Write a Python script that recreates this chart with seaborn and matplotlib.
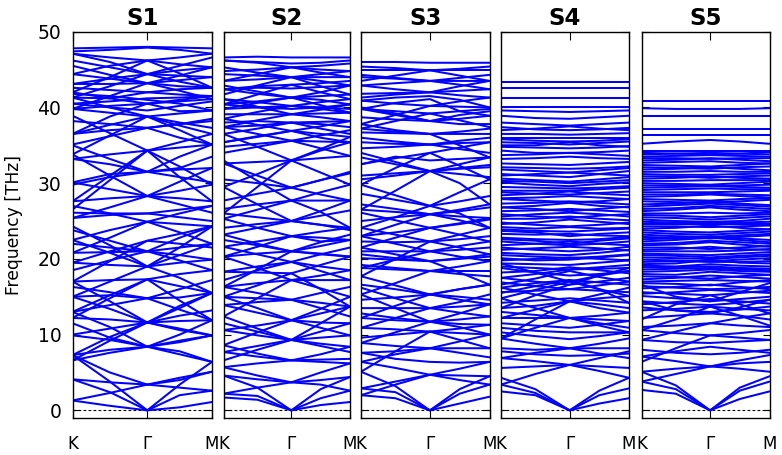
import numpy as np
import pandas as pd
import matplotlib
matplotlib.use("Agg")
import matplotlib.pyplot as plt
import seaborn as sns

# ---------------- data ----------------
panel_titles = ["S1", "S2", "S3", "S4", "S5"]
kpath = [0.0, 0.268, 0.536, 0.768, 1.0]          # K, mid, Gamma, mid, M
k_ticks = [0.0, 0.536, 1.0]
k_labels = ["K", "Γ", "M"]
y_ticks = [0, 10, 20, 30, 40, 50]

# each band: frequencies (THz) at K, K-G mid, Gamma, G-M mid, M
s1_bands = [
    [1.3, 0.6, 0.0, 0.4, 1.1], [4.1, 2.4, 0.0, 2.0, 2.6], [7.3, 3.8, 0.0, 3.4, 6.4],
    [1.3, 2.3, 3.4, 3.0, 2.6], [4.1, 3.7, 3.4, 4.0, 5.1], [7.3, 5.0, 3.4, 4.3, 5.1],
    [6.6, 7.6, 8.4, 9.2, 9.9], [11.5, 9.6, 8.4, 7.4, 6.4], [7.3, 8.0, 8.4, 7.8, 6.4],
    [13.0, 11.0, 8.4, 10.0, 11.9], [7.3, 9.7, 11.6, 10.6, 9.9], [12.2, 12.0, 11.6, 11.8, 11.9],
    [15.0, 13.4, 11.6, 13.5, 15.5], [6.6, 9.2, 11.6, 13.8, 15.5], [17.0, 17.2, 17.3, 18.0, 18.5],
    [13.0, 15.2, 17.3, 16.4, 15.5], [12.2, 14.8, 17.3, 14.5, 11.9], [19.5, 19.2, 19.0, 19.5, 19.9],
    [22.5, 20.8, 19.0, 17.5, 15.5], [15.0, 17.0, 19.0, 21.5, 24.3], [20.8, 20.9, 21.0, 20.5, 19.9],
    [23.8, 22.4, 21.0, 19.8, 18.5], [17.0, 19.7, 22.4, 22.0, 21.5], [19.5, 21.0, 22.4, 23.3, 24.3],
    [22.5, 23.8, 24.9, 24.6, 24.3], [27.0, 26.0, 24.9, 23.5, 22.0], [20.8, 22.8, 24.9, 26.0, 27.0],
    [25.4, 26.8, 28.3, 28.0, 27.6], [33.8, 31.0, 28.3, 27.2, 26.1], [27.6, 28.0, 28.3, 29.0, 29.8],
    [30.1, 29.2, 28.3, 30.2, 32.0], [26.5, 30.4, 34.3, 32.2, 29.8], [38.9, 36.6, 34.3, 35.4, 36.5],
    [33.2, 33.8, 34.3, 34.7, 35.1], [27.6, 31.0, 34.3, 30.8, 27.6], [36.5, 37.7, 38.8, 37.6, 36.5],
    [33.8, 36.3, 38.8, 37.0, 35.1], [41.3, 40.0, 38.8, 39.2, 39.6], [39.8, 40.2, 40.5, 40.8, 41.1],
    [42.0, 41.2, 40.5, 41.0, 41.5], [39.8, 41.5, 43.2, 42.8, 42.6], [43.1, 43.1, 43.2, 43.6, 44.0],
    [41.3, 42.8, 44.4, 44.9, 45.3], [46.2, 45.3, 44.4, 44.2, 44.0], [42.0, 44.0, 46.2, 45.7, 45.3],
    [47.1, 46.6, 46.2, 46.6, 47.1], [47.4, 47.6, 47.9, 47.6, 47.1], [47.8, 47.9, 48.0, 47.9, 47.8],
    [44.4, 45.5, 46.2, 44.5, 42.6], [36.5, 38.8, 40.5, 39.5, 39.6], [30.1, 31.2, 31.5, 31.8, 32.0],
    [40.5, 40.8, 41.2, 41.3, 41.5], [41.8, 41.5, 41.0, 40.5, 39.6],
    [47.1, 46.0, 44.4, 45.5, 46.6], [43.1, 43.8, 44.4, 43.4, 42.6], [45.5, 44.3, 43.2, 44.2, 45.3],
    [44.4, 43.8, 43.2, 42.2, 41.1], [41.3, 41.2, 42.0, 42.4, 42.6], [42.6, 42.3, 42.0, 41.7, 41.5],
    [40.5, 40.0, 39.6, 40.2, 40.8], [39.8, 39.3, 38.8, 38.0, 37.3], [36.5, 37.0, 37.3, 37.8, 38.2],
    [38.2, 37.8, 37.3, 37.8, 38.5], [35.1, 36.2, 37.3, 36.0, 35.1], [33.2, 32.5, 31.5, 30.8, 30.1],
    [35.0, 33.2, 31.5, 33.5, 35.1], [29.8, 30.8, 31.5, 32.0, 33.5], [26.1, 26.0, 26.0, 26.5, 27.0],
    [25.4, 25.8, 26.0, 25.5, 25.0], [22.0, 21.5, 21.0, 21.5, 22.0], [18.5, 19.8, 21.0, 22.8, 24.3],
    [24.3, 21.8, 19.0, 20.5, 22.0], [15.0, 15.2, 14.8, 14.9, 15.5], [16.3, 15.6, 14.8, 16.0, 17.2],
    [13.0, 13.9, 14.8, 13.3, 11.9], [10.0, 10.8, 11.6, 12.5, 13.2], [17.0, 14.4, 11.6, 10.8, 9.9],
    [9.9, 9.3, 8.4, 9.0, 9.9],
]

s2_bands = [
    [1.7, 1.4, 0.0, 0.7, 1.1], [2.2, 1.9, 0.0, 1.6, 2.6], [4.6, 3.0, 0.0, 2.8, 4.4],
    [2.2, 3.0, 3.7, 3.4, 2.6], [4.6, 4.1, 3.7, 4.0, 4.4], [5.7, 4.6, 3.7, 5.0, 6.2],
    [5.7, 6.2, 6.6, 6.7, 6.8], [7.7, 7.1, 6.6, 7.4, 8.4], [8.6, 7.5, 6.6, 6.4, 6.2],
    [10.6, 9.9, 9.3, 9.6, 9.9], [7.7, 8.5, 9.3, 8.8, 8.4], [12.4, 10.8, 9.3, 10.4, 11.5],
    [6.6, 8.0, 9.3, 11.5, 13.7], [8.6, 10.3, 11.9, 11.6, 11.5], [13.9, 12.9, 11.9, 12.8, 13.7],
    [15.0, 13.5, 11.9, 10.9, 9.9], [10.6, 11.2, 11.9, 13.4, 15.0], [16.3, 16.8, 17.2, 17.2, 17.2],
    [12.4, 14.8, 17.2, 16.1, 15.0], [20.3, 18.8, 17.2, 17.8, 18.5], [18.3, 18.2, 18.1, 19.2, 20.3],
    [15.0, 16.5, 18.1, 16.0, 13.7], [21.6, 20.6, 19.6, 18.4, 17.2], [18.3, 19.0, 19.6, 20.6, 21.5],
    [16.3, 18.6, 21.0, 21.7, 22.5], [23.2, 22.0, 21.0, 20.6, 20.3], [20.3, 21.6, 23.0, 22.3, 22.5],
    [21.6, 22.3, 23.0, 23.6, 24.1], [25.3, 24.1, 23.0, 22.8, 22.5], [23.2, 24.1, 25.0, 24.5, 24.1],
    [26.0, 25.5, 25.0, 25.7, 26.4], [29.5, 27.2, 25.0, 26.3, 27.7], [26.6, 27.2, 27.7, 27.7, 27.7],
    [25.3, 26.5, 27.7, 28.8, 29.8], [33.0, 30.3, 27.7, 26.2, 24.1], [32.6, 32.8, 33.0, 33.3, 33.6],
    [29.5, 31.2, 33.0, 31.4, 29.8], [36.5, 34.8, 33.0, 34.3, 35.4], [26.0, 29.5, 33.0, 34.5, 36.1],
    [34.8, 35.2, 35.6, 35.5, 35.4], [37.4, 36.5, 35.6, 34.6, 33.6], [35.4, 36.2, 36.9, 37.5, 38.2],
    [38.5, 37.7, 36.9, 36.5, 36.1], [39.1, 39.1, 39.1, 39.2, 39.3], [37.4, 38.3, 39.1, 39.7, 40.4],
    [41.1, 40.1, 39.1, 38.7, 38.2], [39.8, 40.6, 41.3, 41.5, 41.7], [42.4, 41.8, 41.3, 41.0, 40.4],
    [40.4, 40.8, 41.3, 40.3, 39.3], [41.7, 42.9, 44.0, 43.5, 42.9], [45.3, 44.6, 44.0, 44.0, 44.0],
    [43.5, 43.7, 44.0, 44.4, 44.8], [44.4, 44.2, 44.0, 42.8, 41.7], [46.2, 46.0, 45.8, 45.9, 46.2],
    [46.6, 46.7, 46.6, 46.6, 46.6], [38.0, 38.2, 38.0, 38.1, 38.2], [40.4, 40.0, 39.8, 40.0, 40.4],
    [42.4, 42.6, 42.5, 42.7, 42.9],
    [46.2, 45.9, 45.3, 45.5, 45.8], [44.8, 45.0, 45.3, 45.0, 44.8], [43.5, 44.4, 45.3, 44.6, 44.0],
    [42.4, 42.8, 43.0, 43.2, 43.5], [40.4, 41.7, 43.0, 42.0, 41.1], [42.9, 42.1, 41.3, 42.0, 42.9],
    [41.1, 40.7, 40.2, 40.7, 41.1], [39.8, 40.0, 40.2, 39.8, 39.3], [38.5, 39.4, 40.2, 40.0, 39.8],
    [37.4, 37.6, 38.0, 37.8, 37.4], [36.5, 37.2, 38.0, 37.2, 36.5], [35.4, 36.1, 36.9, 36.0, 35.4],
    [34.0, 34.8, 35.6, 36.3, 37.0], [32.6, 31.0, 29.4, 30.4, 31.5], [30.5, 30.0, 29.4, 28.5, 27.7],
    [27.7, 28.6, 29.4, 30.4, 31.3], [24.1, 24.6, 25.0, 24.5, 23.8], [20.3, 20.7, 21.0, 20.7, 20.3],
    [22.5, 21.8, 21.0, 22.2, 23.2], [17.2, 18.5, 19.6, 19.0, 18.5], [16.3, 15.5, 14.6, 15.5, 16.3],
    [13.9, 14.3, 14.6, 14.2, 13.7], [15.0, 14.8, 14.6, 13.5, 12.4], [11.5, 10.4, 9.3, 8.5, 7.7],
]

s3_bands = [
    [2.0, 1.6, 0.0, 0.9, 1.8], [2.9, 2.4, 0.0, 2.2, 3.4], [5.1, 3.2, 0.0, 2.8, 4.5],
    [2.0, 3.4, 4.7, 4.0, 3.4], [6.4, 5.6, 4.7, 4.6, 4.5], [2.9, 3.8, 4.7, 5.5, 6.4],
    [7.6, 6.8, 6.4, 6.3, 6.4], [6.4, 7.4, 8.2, 8.2, 8.2], [8.9, 8.5, 8.2, 9.1, 10.0],
    [5.1, 7.8, 10.4, 9.3, 8.2], [10.9, 10.7, 10.4, 10.8, 11.3], [12.2, 11.9, 11.7, 12.0, 12.4],
    [8.9, 10.3, 11.7, 12.8, 14.0], [15.3, 13.5, 11.7, 11.0, 10.0], [13.5, 13.5, 13.5, 13.7, 14.0],
    [16.2, 14.8, 13.5, 12.9, 12.4], [10.9, 12.2, 13.5, 14.3, 15.3], [12.2, 13.8, 15.3, 16.0, 16.6],
    [17.7, 16.5, 15.3, 14.6, 14.0], [18.8, 18.6, 18.4, 18.4, 18.4], [15.3, 16.8, 18.4, 19.0, 19.7],
    [20.1, 19.9, 19.7, 18.2, 16.6], [21.5, 20.6, 19.7, 20.1, 20.6], [18.8, 19.9, 21.0, 21.7, 22.3],
    [23.0, 22.0, 21.0, 20.3, 19.7], [17.7, 20.0, 22.3, 21.5, 20.6], [24.1, 23.2, 22.3, 23.2, 24.1],
    [21.5, 22.8, 24.1, 23.2, 22.3], [26.1, 25.1, 24.1, 24.7, 25.4], [23.0, 24.5, 25.9, 25.6, 25.4],
    [26.5, 26.2, 25.9, 26.5, 27.2], [29.8, 28.4, 27.0, 26.0, 24.1], [24.1, 25.5, 27.0, 28.8, 30.5],
    [31.0, 31.3, 31.6, 31.9, 32.1], [26.5, 29.0, 31.6, 30.0, 27.2], [34.0, 32.8, 31.6, 32.5, 33.4],
    [29.8, 32.0, 34.0, 32.3, 30.5], [32.5, 33.3, 34.0, 34.7, 35.4], [35.4, 35.2, 35.1, 35.3, 35.4],
    [36.7, 36.6, 36.5, 36.5, 36.5], [37.8, 37.0, 36.5, 35.0, 33.4], [38.7, 38.4, 38.2, 38.5, 38.9],
    [39.8, 39.0, 38.2, 37.8, 37.8], [40.9, 40.5, 40.2, 40.1, 40.0], [37.8, 39.0, 40.2, 40.8, 41.3],
    [41.8, 41.9, 42.0, 42.2, 42.4], [42.9, 42.4, 42.0, 41.6, 41.3], [44.0, 43.8, 43.5, 43.5, 43.5],
    [42.9, 43.2, 43.5, 43.9, 44.3], [44.9, 44.9, 44.9, 44.9, 44.9], [46.0, 46.0, 45.9, 45.9, 45.9],
    [40.9, 41.3, 41.5, 41.0, 40.0], [39.8, 40.6, 41.1, 39.5, 38.9], [32.5, 33.5, 33.0, 33.2, 33.4],
    [45.4, 45.2, 44.9, 45.1, 45.4], [43.5, 44.2, 44.9, 44.2, 43.5], [44.3, 43.9, 43.5, 43.0, 42.4],
    [41.3, 41.7, 42.0, 42.8, 43.5], [39.8, 39.5, 39.2, 39.5, 39.8], [37.2, 38.2, 39.2, 38.3, 37.4],
    [40.0, 39.2, 38.2, 39.0, 39.5], [37.2, 36.8, 36.5, 36.8, 37.2], [36.0, 35.5, 35.1, 35.6, 36.0],
    [34.6, 34.8, 35.1, 34.5, 34.0], [33.4, 32.5, 31.6, 32.0, 32.4], [30.5, 31.0, 31.6, 31.2, 30.8],
    [28.6, 27.8, 27.0, 27.6, 28.3], [27.2, 26.6, 25.9, 25.1, 24.1], [25.0, 25.5, 25.9, 26.3, 26.8],
    [23.0, 23.5, 24.1, 24.6, 25.2], [22.3, 22.2, 22.3, 22.6, 23.0], [21.0, 21.0, 21.0, 21.2, 21.5],
    [20.6, 20.1, 19.7, 20.0, 20.3], [19.2, 18.8, 18.4, 18.0, 17.7], [16.6, 16.0, 15.3, 16.0, 16.6],
    [14.6, 14.9, 15.3, 15.0, 14.6], [12.8, 12.2, 11.7, 11.4, 11.3], [9.6, 10.0, 10.4, 10.2, 10.0],
    [7.6, 7.8, 8.2, 7.6, 7.0],
]

s4_bands = [
    [2.5, 2.0, 0.0, 0.9, 1.6], [3.4, 2.3, 0.0, 2.0, 2.9], [4.3, 2.8, 0.0, 2.6, 4.3],
    [5.6, 5.8, 6.0, 5.8, 5.6], [3.4, 4.8, 6.0, 5.2, 4.3], [6.9, 6.5, 6.0, 6.9, 7.8],
    [8.2, 8.0, 8.2, 8.2, 8.2], [6.9, 7.6, 8.2, 8.8, 9.5], [9.5, 8.8, 8.2, 7.5, 6.9],
    [10.9, 10.5, 10.3, 10.3, 10.3], [9.5, 10.9, 12.2, 11.5, 10.9], [14.8, 13.5, 12.2, 11.2, 10.3],
    [12.2, 12.2, 12.2, 12.5, 12.9], [9.5, 12.0, 14.4, 13.5, 12.9], [12.2, 13.3, 14.4, 14.8, 15.1],
    [16.2, 15.3, 14.4, 15.3, 16.2], [13.5, 13.8, 14.4, 14.0, 13.5], [17.5, 17.0, 16.6, 17.0, 17.5],
    [16.2, 16.8, 17.2, 16.9, 16.6], [18.8, 18.2, 17.8, 18.0, 18.4], [17.5, 18.0, 18.6, 18.7, 18.8],
    [19.4, 19.3, 19.2, 19.5, 19.8], [20.1, 19.8, 19.9, 20.2, 20.5], [20.8, 20.6, 20.5, 20.8, 21.2],
    [21.5, 21.2, 21.0, 21.2, 21.6], [22.3, 22.0, 21.8, 22.0, 22.3], [22.8, 22.6, 22.5, 22.6, 22.9],
    [23.7, 23.5, 23.0, 23.3, 23.5], [24.2, 24.0, 24.2, 24.0, 24.1], [24.6, 24.8, 25.2, 24.9, 24.6],
    [25.9, 25.6, 25.4, 25.7, 25.9], [26.3, 26.4, 26.6, 26.4, 26.2], [26.8, 27.0, 27.4, 27.0, 26.8],
    [27.9, 27.7, 27.5, 27.6, 27.9], [28.4, 28.6, 28.9, 28.6, 28.4], [29.0, 29.0, 29.0, 29.2, 29.4],
    [30.1, 29.8, 29.6, 29.9, 30.1], [30.6, 30.4, 30.2, 30.5, 30.8], [31.2, 31.0, 30.8, 31.2, 31.6],
    [32.1, 32.0, 31.9, 32.0, 32.2], [32.6, 32.5, 32.4, 32.6, 32.8], [33.2, 33.3, 33.5, 33.3, 33.2],
    [34.3, 34.0, 34.0, 34.1, 34.3], [34.8, 34.7, 34.6, 34.7, 34.9], [35.4, 35.3, 35.1, 35.3, 35.5],
    [36.0, 36.0, 36.0, 36.0, 36.0], [36.5, 36.5, 36.4, 36.5, 36.6], [37.4, 37.1, 37.0, 37.1, 37.3],
    [38.0, 37.8, 37.6, 37.8, 38.0], [38.9, 38.6, 38.5, 38.7, 38.9], [39.6, 39.5, 39.4, 39.5, 39.6],
    [40.0, 40.0, 40.0, 40.0, 40.0], [41.2, 41.2, 41.2, 41.2, 41.2], [42.6, 42.6, 42.6, 42.6, 42.6],
    [43.4, 43.4, 43.4, 43.4, 43.4], [14.8, 15.9, 17.0, 16.0, 15.1], [19.4, 18.2, 17.0, 17.8, 18.4],
    [13.5, 15.2, 16.6, 17.8, 18.8], [15.5, 16.4, 17.2, 16.0, 14.2],
    [15.6, 15.8, 16.0, 15.8, 15.6], [16.9, 16.4, 16.0, 16.5, 17.0], [18.2, 18.4, 18.9, 18.5, 18.1],
    [19.0, 18.8, 18.6, 18.9, 19.2], [19.8, 20.0, 20.2, 20.0, 19.8], [20.5, 20.3, 20.1, 20.3, 20.6],
    [21.2, 21.4, 21.6, 21.4, 21.1], [21.8, 22.0, 22.3, 22.0, 21.8], [22.6, 22.4, 22.0, 22.4, 22.7],
    [23.3, 23.2, 23.3, 23.1, 23.0], [23.9, 23.7, 23.6, 23.8, 24.0], [24.8, 24.5, 24.3, 24.5, 24.8],
    [25.3, 25.3, 25.6, 25.3, 25.1], [25.6, 25.9, 26.1, 25.9, 25.6], [26.8, 26.6, 26.3, 26.6, 26.9],
    [27.3, 27.4, 27.6, 27.4, 27.2], [28.0, 28.1, 28.3, 28.1, 27.9], [28.8, 28.6, 28.5, 28.7, 28.9],
    [29.5, 29.4, 29.3, 29.4, 29.6], [30.3, 30.2, 30.0, 30.2, 30.4], [31.0, 31.2, 31.4, 31.2, 31.0],
    [31.8, 31.6, 31.4, 31.7, 32.0], [33.7, 33.8, 34.0, 33.8, 33.6], [35.0, 35.0, 35.4, 35.0, 34.8],
    [35.8, 35.6, 35.5, 35.6, 35.8], [37.0, 37.2, 37.5, 37.2, 37.0], [16.6, 17.4, 18.4, 17.6, 17.0],
    [14.2, 14.5, 14.8, 14.5, 14.2], [13.0, 12.6, 12.2, 12.0, 11.8], [11.5, 11.2, 10.9, 11.3, 11.8],
    [10.3, 9.8, 9.4, 9.8, 10.3], [7.8, 7.4, 7.2, 7.3, 7.5],
]

s5_bands = [
    [2.7, 2.2, 0.0, 1.5, 2.5], [3.8, 2.8, 0.0, 2.6, 3.8], [5.1, 3.3, 0.0, 3.0, 4.5],
    [5.1, 5.5, 5.8, 5.5, 5.1], [7.1, 6.5, 5.8, 6.2, 6.4], [3.8, 4.8, 5.8, 6.6, 7.3],
    [8.0, 7.6, 7.4, 7.6, 8.0], [7.1, 7.8, 8.4, 8.0, 7.6], [9.3, 9.0, 8.9, 9.1, 9.3],
    [6.4, 8.2, 9.9, 9.6, 9.3], [10.6, 10.2, 9.9, 10.2, 10.6], [11.0, 11.2, 11.5, 11.2, 11.0],
    [9.3, 10.4, 11.5, 12.2, 12.8], [12.2, 12.5, 12.8, 12.5, 12.0], [13.2, 13.4, 13.7, 13.4, 13.2],
    [14.4, 14.1, 13.9, 14.2, 14.6], [15.1, 14.8, 14.4, 14.7, 15.0], [15.6, 15.4, 15.2, 15.5, 15.8],
    [16.1, 16.3, 16.6, 16.3, 16.0], [16.8, 16.7, 16.5, 16.9, 17.2], [17.3, 17.5, 17.8, 17.6, 17.4],
    [18.0, 17.9, 18.3, 18.1, 17.9], [18.6, 18.7, 18.8, 18.6, 18.5], [19.1, 19.0, 19.3, 19.1, 19.0],
    [19.6, 19.7, 19.6, 19.6, 19.7], [20.2, 20.1, 20.0, 20.2, 20.4], [20.7, 20.6, 20.5, 20.7, 20.9],
    [21.2, 21.3, 21.6, 21.3, 21.2], [21.8, 21.9, 22.2, 21.9, 21.6], [22.3, 22.5, 22.8, 22.5, 22.2],
    [22.9, 22.8, 22.7, 22.9, 23.1], [23.5, 23.3, 23.2, 23.4, 23.6], [24.0, 24.1, 24.4, 24.1, 23.9],
    [24.6, 24.6, 24.6, 24.6, 24.6], [25.2, 25.0, 24.9, 25.0, 25.3], [25.8, 25.7, 25.5, 25.7, 25.9],
    [26.3, 26.5, 26.8, 26.5, 26.3], [26.9, 27.1, 27.3, 27.1, 26.9], [27.6, 27.5, 27.4, 27.6, 27.8],
    [28.2, 28.3, 28.5, 28.3, 28.1], [28.8, 28.8, 28.8, 28.9, 29.0], [29.4, 29.5, 29.6, 29.5, 29.4],
    [30.0, 29.9, 29.8, 30.0, 30.2], [30.6, 30.7, 30.9, 30.7, 30.6], [31.2, 31.1, 31.1, 31.2, 31.3],
    [31.8, 31.9, 32.1, 31.9, 31.7], [32.4, 32.3, 32.2, 32.4, 32.6], [33.0, 33.1, 33.3, 33.1, 32.9],
    [33.5, 33.6, 33.7, 33.6, 33.5], [34.0, 33.9, 33.8, 33.9, 34.1], [34.3, 34.3, 34.3, 34.3, 34.3],
    [35.2, 35.5, 35.7, 35.5, 35.2], [36.3, 36.3, 36.3, 36.3, 36.3], [37.1, 37.1, 37.1, 37.1, 37.1],
    [38.9, 38.9, 38.9, 38.9, 38.9], [39.9, 39.8, 39.8, 39.8, 39.9], [40.8, 40.8, 40.8, 40.8, 40.8],
    [10.6, 12.0, 13.7, 12.5, 11.2], [14.4, 13.2, 12.8, 13.6, 14.6], [16.6, 15.0, 14.4, 15.6, 16.8],
    [12.0, 14.0, 15.2, 14.0, 12.8],
    [15.4, 15.6, 15.9, 15.7, 15.5], [16.4, 16.2, 16.0, 16.1, 16.3], [17.0, 17.1, 17.2, 17.1, 17.0],
    [17.7, 17.6, 17.4, 17.7, 17.9], [18.3, 18.4, 18.6, 18.4, 18.3], [18.9, 18.9, 19.0, 18.8, 18.7],
    [19.3, 19.4, 19.9, 19.5, 19.4], [19.9, 19.8, 19.7, 19.9, 20.1], [20.5, 20.4, 20.2, 20.4, 20.6],
    [21.0, 21.0, 21.0, 21.1, 21.3], [21.5, 21.5, 21.3, 21.5, 21.7], [22.0, 22.1, 22.4, 22.2, 22.0],
    [22.6, 22.7, 23.0, 22.7, 22.5], [23.2, 23.0, 22.9, 23.1, 23.3], [23.8, 23.6, 23.5, 23.7, 23.9],
    [24.3, 24.3, 24.2, 24.3, 24.4], [24.9, 24.8, 24.8, 24.8, 24.9], [25.5, 25.4, 25.2, 25.4, 25.6],
    [26.0, 26.0, 26.1, 26.0, 26.1], [26.6, 26.7, 27.0, 26.8, 26.6], [27.2, 27.3, 27.6, 27.3, 27.1],
    [27.9, 27.8, 27.7, 27.9, 28.0], [28.5, 28.5, 28.6, 28.5, 28.4], [29.1, 29.2, 29.3, 29.2, 29.2],
    [29.7, 29.7, 29.6, 29.7, 29.8], [30.3, 30.3, 30.4, 30.4, 30.4], [30.9, 30.9, 30.7, 30.9, 31.0],
    [31.5, 31.5, 31.6, 31.5, 31.5], [32.1, 32.0, 31.9, 32.1, 32.2], [32.7, 32.8, 32.9, 32.7, 32.6],
    [33.3, 33.3, 33.2, 33.3, 33.3], [33.8, 33.9, 34.0, 33.9, 33.8], [14.0, 14.3, 14.7, 14.4, 14.1],
    [13.6, 13.2, 13.0, 13.3, 13.7],
]

all_bands = [s1_bands, s2_bands, s3_bands, s4_bands, s5_bands]

# ---------------- long-form table ----------------
rows = []
for title, bands in zip(panel_titles, all_bands):
    for b, vals in enumerate(bands):
        for k, f in zip(kpath, vals):
            rows.append({"panel": title, "band": b, "k": k, "freq": f})
df = pd.DataFrame(rows)

# ---------------- figure ----------------
sns.set_style("white")
plt.rcParams["font.family"] = ["DejaVu Sans"]
plt.rcParams["text.color"] = "black"
plt.rcParams["axes.labelcolor"] = "black"
plt.rcParams["xtick.color"] = "black"
plt.rcParams["ytick.color"] = "black"

fig = plt.figure(figsize=(7.82, 4.55), dpi=100)
W, H = 782.0, 455.0
panel_px = [(72.5, 212), (223.5, 350), (361, 489.5), (501, 629), (641.5, 769.5)]
top_px, bot_px = 31.7, 418.3

for i, (title, (x0, x1)) in enumerate(zip(panel_titles, panel_px)):
    ax = fig.add_axes([x0 / W, 1 - bot_px / H, (x1 - x0) / W, (bot_px - top_px) / H])
    sub = df[df["panel"] == title]
    ax.axhline(0, color="black", lw=0.8, ls=(0, (2.5, 2.0)), zorder=1)
    sns.lineplot(data=sub, x="k", y="freq", units="band", estimator=None,
                 color="#0000ff", linewidth=1.45, sort=False, legend=False, ax=ax, zorder=2)
    ax.set_xlim(0, 1)
    ax.set_ylim(-1.05, 50)
    ax.set_xticks(k_ticks)
    ax.set_xticklabels(k_labels)
    ax.set_yticks(y_ticks)
    ax.tick_params(axis="x", direction="in", length=6, width=0.8, top=True,
                   bottom=True, pad=12, labelsize=12, colors="black")
    ax.tick_params(axis="y", direction="in", length=5, width=0.8, left=True,
                   right=True, pad=8, labelsize=13.5, colors="black")
    ax.set_xlabel("")
    if i == 0:
        ax.set_ylabel("Frequency [THz]", fontsize=12.3, color="black")
        ax.yaxis.set_label_coords(-0.352, 0.5)
    else:
        ax.set_ylabel("")
        ax.set_yticklabels([])
    for sp in ax.spines.values():
        sp.set_color("black")
        sp.set_linewidth(1.0)
        sp.set_visible(True)
    ax.set_title(title, fontsize=16.5, fontweight="bold", pad=5, color="black")

fig.savefig("out.png", dpi=100)
